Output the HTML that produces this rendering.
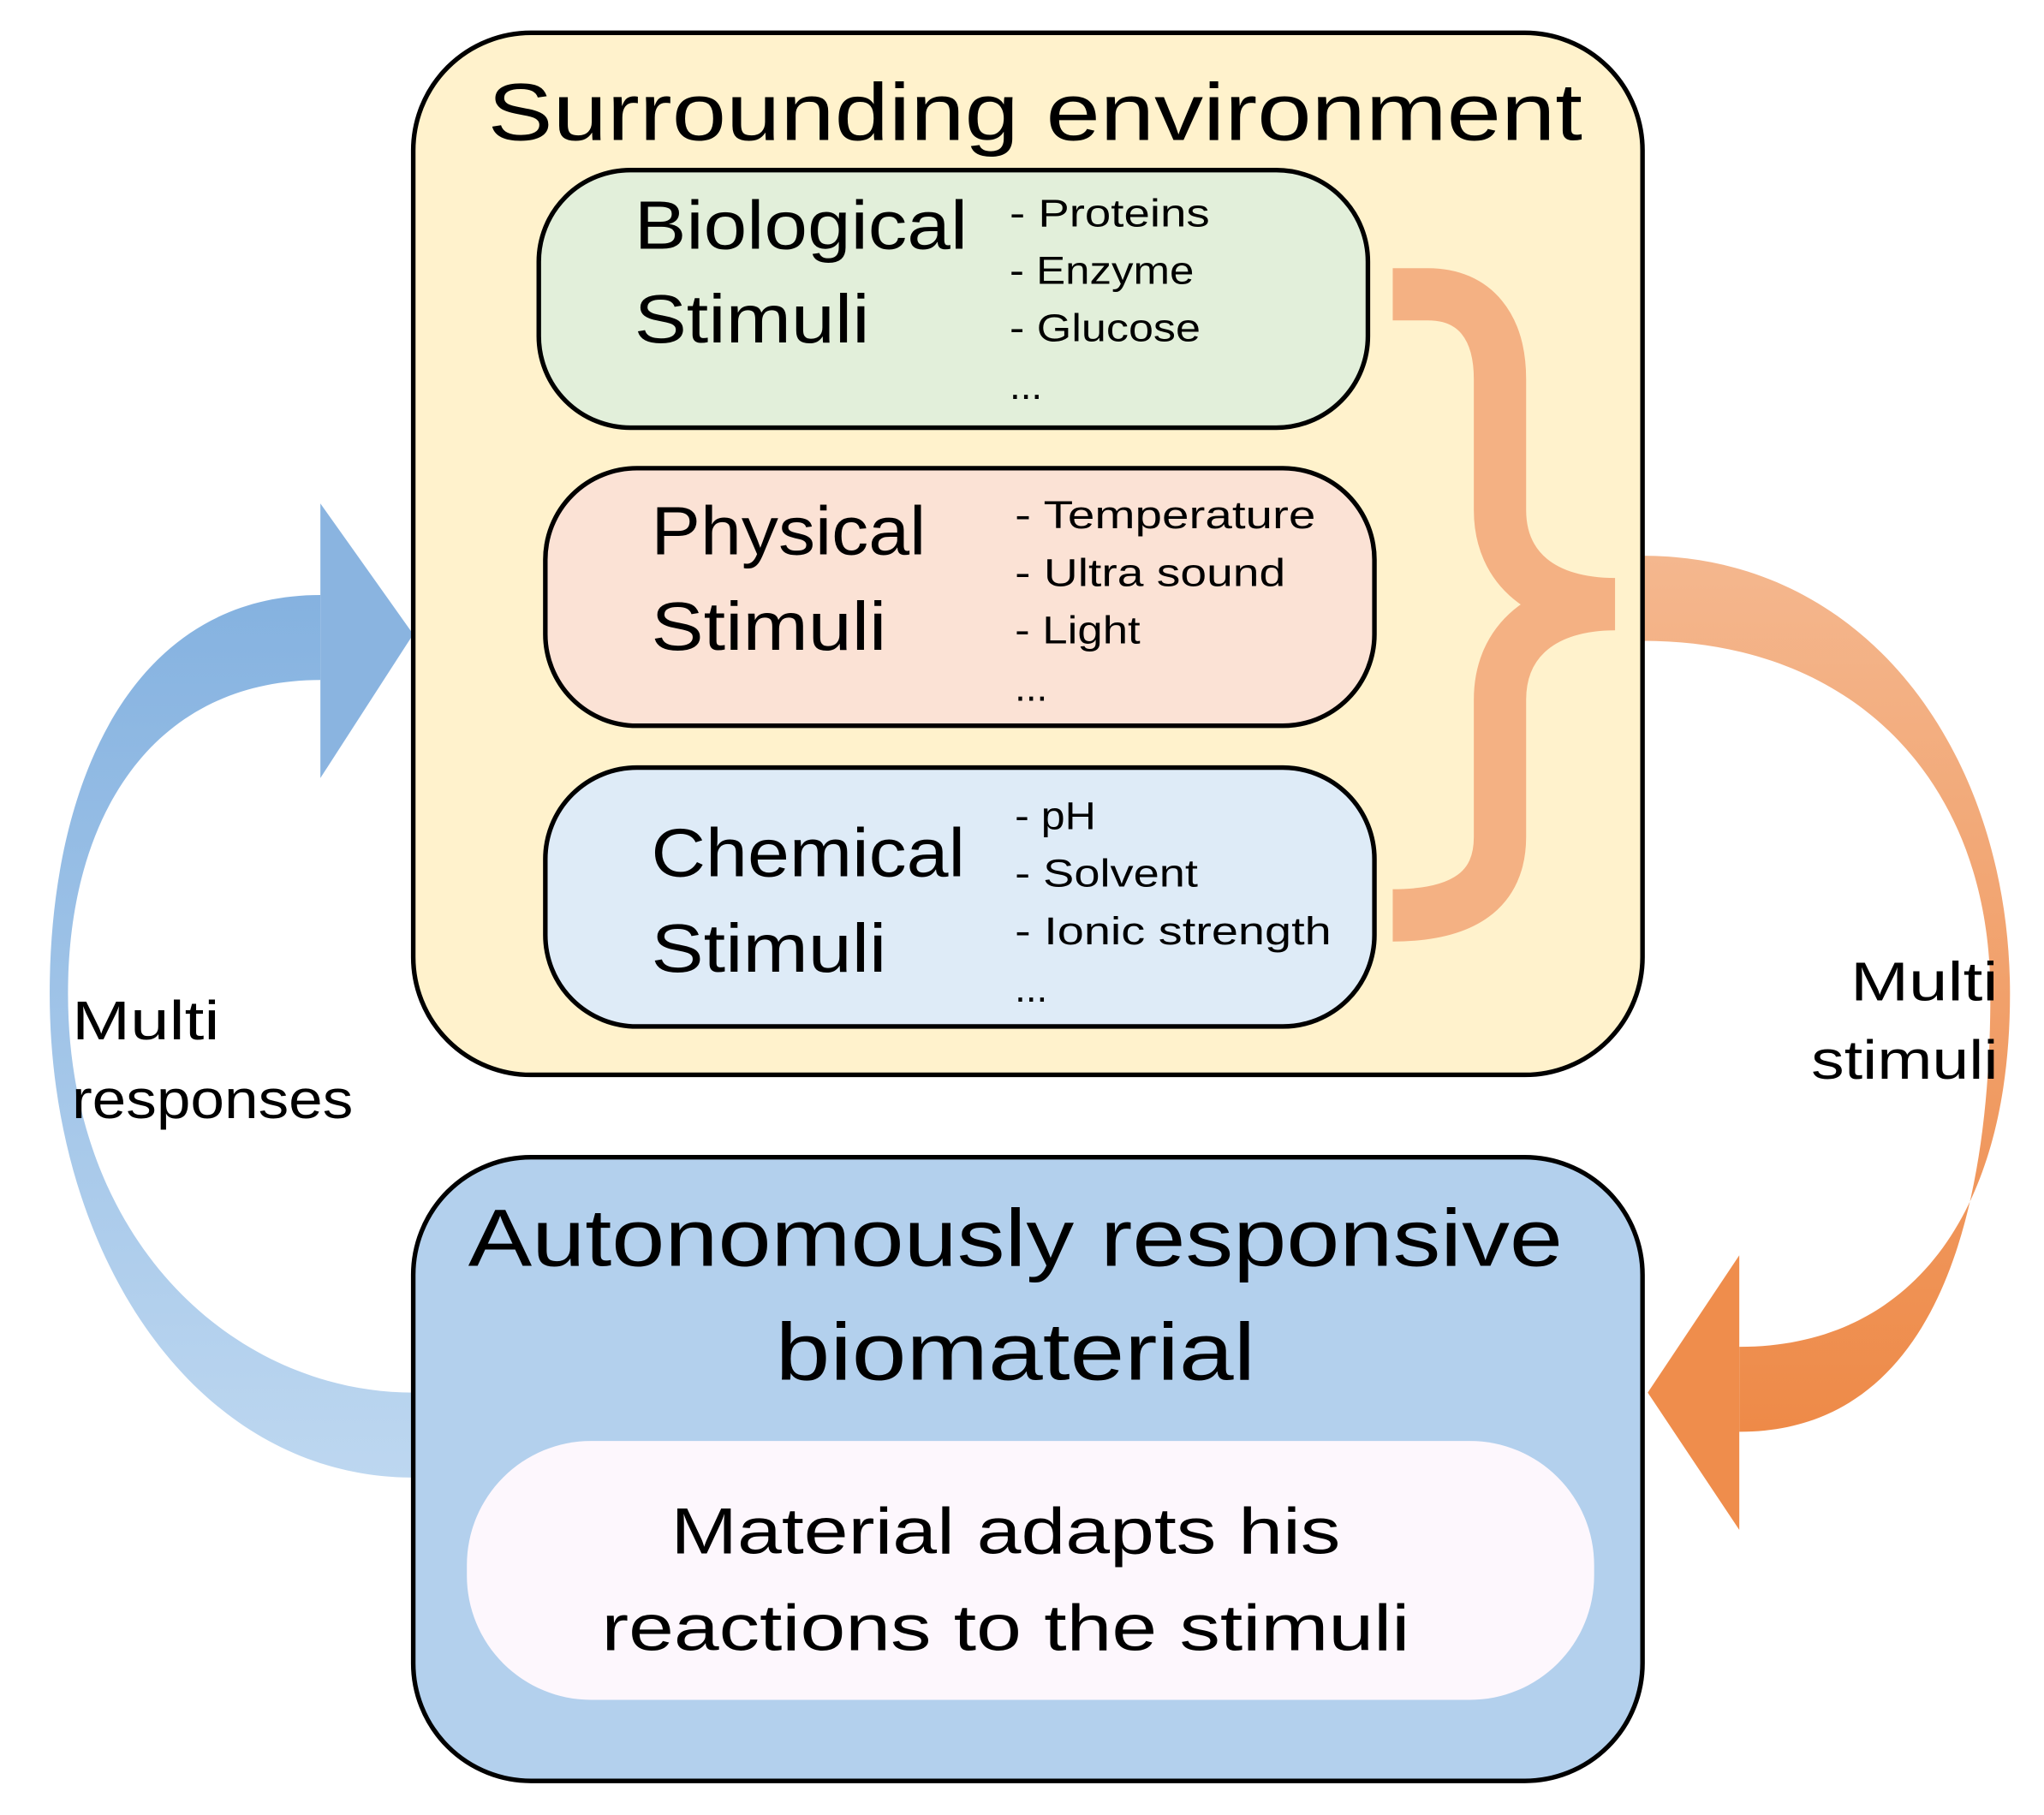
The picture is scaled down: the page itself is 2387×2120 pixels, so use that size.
<!DOCTYPE html>
<html><head><meta charset="utf-8"><style>
html,body{margin:0;padding:0;background:#fff;}
svg{display:block;}
text{font-family:"Liberation Sans",sans-serif;fill:#000;}
</style></head><body>
<svg width="2387" height="2120" viewBox="0 0 1563 1388" xmlns="http://www.w3.org/2000/svg">
<defs>
<linearGradient id="bl" x1="0" y1="0" x2="0" y2="1">
<stop offset="0" stop-color="#85b2e0"/><stop offset="1" stop-color="#bdd7f0"/></linearGradient>
<linearGradient id="or" x1="0" y1="0" x2="0" y2="1">
<stop offset="0" stop-color="#f4b78e"/><stop offset="1" stop-color="#ee8a48"/></linearGradient>
</defs>
<path d="M245,455 C100,455 38,600 38,760 C38,960 150,1130 316,1130 L316,1065 C180,1065 52,950 52,760 C52,620 120,520 245,520 Z" fill="url(#bl)"/>
<polygon points="245,385 316,485 245,595" fill="#8ab4e0"/>
<path d="M1256,425 C1430,425 1537,580 1537,760 C1537,930 1460,1030 1330,1030 L1330,1095 C1480,1095 1522,930 1522,760 C1522,600 1420,490 1256,490 Z" fill="url(#or)"/>
<polygon points="1330,960 1260,1065 1330,1170" fill="#ef8d4c"/>
<rect x="316" y="25" width="940" height="797" rx="90" fill="#fff2cc" stroke="#000" stroke-width="3.5"/>
<text x="373" y="107" font-size="62" textLength="837" lengthAdjust="spacingAndGlyphs">Surrounding environment</text>
<rect x="412" y="130" width="634" height="197" rx="70" fill="#e2efda" stroke="#000" stroke-width="3.5"/>
<rect x="417" y="358" width="634" height="197" rx="70" fill="#fbe2d5" stroke="#000" stroke-width="3.5"/>
<rect x="417" y="587" width="634" height="198" rx="70" fill="#deebf7" stroke="#000" stroke-width="3.5"/>
<text x="485" y="190" font-size="52" textLength="255" lengthAdjust="spacingAndGlyphs">Biological</text>
<text x="485" y="262" font-size="52" textLength="180" lengthAdjust="spacingAndGlyphs">Stimuli</text>
<text x="498" y="424" font-size="52" textLength="210" lengthAdjust="spacingAndGlyphs">Physical</text>
<text x="498" y="497" font-size="52" textLength="180" lengthAdjust="spacingAndGlyphs">Stimuli</text>
<text x="498" y="670" font-size="52" textLength="240" lengthAdjust="spacingAndGlyphs">Chemical</text>
<text x="498" y="743" font-size="52" textLength="180" lengthAdjust="spacingAndGlyphs">Stimuli</text>
<g font-size="30">
<text x="772" y="173" textLength="153" lengthAdjust="spacingAndGlyphs">- Proteins</text>
<text x="772" y="217" textLength="141" lengthAdjust="spacingAndGlyphs">- Enzyme</text>
<text x="772" y="261" textLength="146" lengthAdjust="spacingAndGlyphs">- Glucose</text>
<text x="772" y="305">...</text>
<text x="776" y="404" textLength="230" lengthAdjust="spacingAndGlyphs">- Temperature</text>
<text x="776" y="448" textLength="207" lengthAdjust="spacingAndGlyphs">- Ultra sound</text>
<text x="776" y="492" textLength="96" lengthAdjust="spacingAndGlyphs">- Light</text>
<text x="776" y="536">...</text>
<text x="776" y="634" textLength="62" lengthAdjust="spacingAndGlyphs">- pH</text>
<text x="776" y="678" textLength="140" lengthAdjust="spacingAndGlyphs">- Solvent</text>
<text x="776" y="722" textLength="242" lengthAdjust="spacingAndGlyphs">- Ionic strength</text>
<text x="776" y="766">...</text>
</g>
<path d="M1065,225 L1092,225 C1128,225 1147,250 1147,290 L1147,390 C1147,435 1180,462 1235,462 C1180,462 1147,490 1147,535 L1147,640 C1147,680 1120,700 1065,700" fill="none" stroke="#f4b183" stroke-width="40"/>
<rect x="316" y="885" width="940" height="477" rx="90" fill="#b3d0ed" stroke="#000" stroke-width="3.5"/>
<text x="358" y="968" font-size="62" textLength="837" lengthAdjust="spacingAndGlyphs">Autonomously responsive</text>
<text x="593" y="1055" font-size="62" textLength="367" lengthAdjust="spacingAndGlyphs">biomaterial</text>
<rect x="357" y="1102" width="862" height="198" rx="95" fill="#fdf7fd"/>
<text x="513" y="1188" font-size="50" textLength="512" lengthAdjust="spacingAndGlyphs">Material adapts his</text>
<text x="460" y="1262" font-size="50" textLength="618" lengthAdjust="spacingAndGlyphs">reactions to the stimuli</text>
<text x="55" y="795" font-size="42" textLength="113" lengthAdjust="spacingAndGlyphs">Multi</text>
<text x="55" y="855" font-size="42" textLength="215" lengthAdjust="spacingAndGlyphs">responses</text>
<text x="1415" y="765" font-size="42" textLength="113" lengthAdjust="spacingAndGlyphs">Multi</text>
<text x="1385" y="825" font-size="42" textLength="143" lengthAdjust="spacingAndGlyphs">stimuli</text>
</svg>
</body></html>
